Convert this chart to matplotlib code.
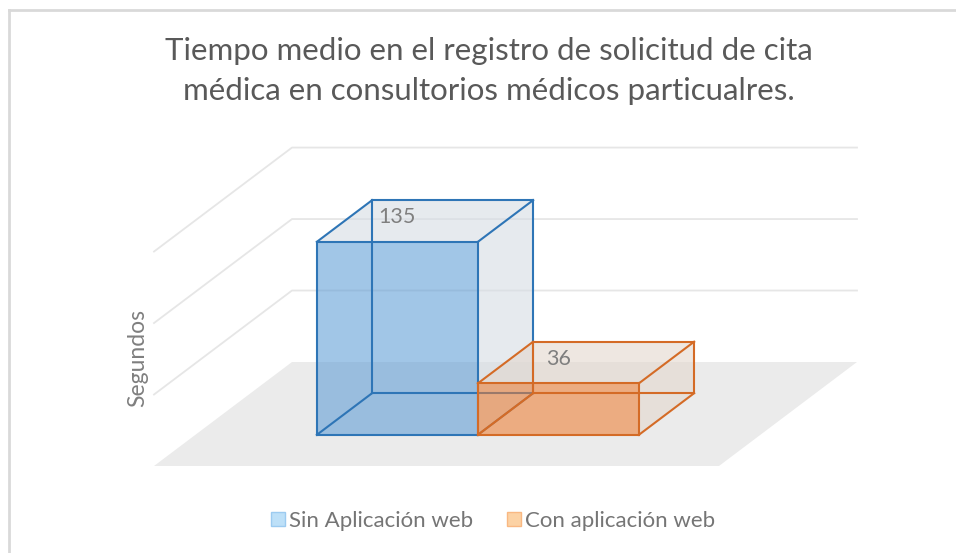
import matplotlib.pyplot as plt
from matplotlib.patches import Polygon, Patch
from matplotlib.lines import Line2D

# datos
title = 'Tiempo medio en el registro de solicitud de cita\nmédica en consultorios médicos particualres.'
series = ['Sin Aplicación web', 'Con aplicación web']
values = [135, 36]
y_label = 'Segundos'
grid_vals = [50, 100, 150]

plt.rcParams['font.family'] = ['Lato', 'DejaVu Sans']

# proyeccion oblicua tipo grafico 3D de Excel
# u: ancho del suelo (0..1), v: segundos, d: profundidad (0..1)
DX = 138 / 565
DY = 104 / 1.4296


def proj(u, v, d):
    return (u + d * DX, v + d * DY)


fig = plt.figure(figsize=(9.56, 5.53), dpi=100)
ax = fig.add_axes([0, 0, 1, 1])
ax.set_xlim(-154 / 565, (956 - 154) / 565)
ax.set_ylim(-(553 - 466) / 1.4296, 466 / 1.4296)
ax.axis('off')

# borde del area del grafico
fig.add_artist(Line2D([9 / 956, 9 / 956], [0, 1 - 10 / 553], color='#D9D9D9', lw=2))
fig.add_artist(Line2D([9 / 956, 1], [1 - 10 / 553, 1 - 10 / 553], color='#D9D9D9', lw=2))

# suelo
floor = [proj(0, 0, 0), proj(1, 0, 0), proj(1, 0, 1), proj(0, 0, 1)]
ax.add_patch(Polygon(floor, closed=True, facecolor='#EBEBEB', edgecolor='none', zorder=1))

# lineas de cuadricula (pared izquierda y pared del fondo)
for g in grid_vals:
    pts = [proj(0, g, 0), proj(0, g, 1), proj(1, g, 1)]
    ax.plot([p[0] for p in pts], [p[1] for p in pts], color='#E6E6E6', lw=1.3, zorder=1)

front_cols = ['#5B9BD5', '#ED7D31']
side_cols = ['#D6DCE4', '#E3D7CE']
edge_cols = ['#2E75B6', '#D46B26']

bar_w = 0.285
d0, d1 = 0.3, 0.7
start = 0.5 - bar_w * len(values) / 2


def box(u0, u1, h, fc, sc, ec, z):
    top = [proj(u0, h, d0), proj(u1, h, d0), proj(u1, h, d1), proj(u0, h, d1)]
    right = [proj(u1, 0, d0), proj(u1, 0, d1), proj(u1, h, d1), proj(u1, h, d0)]
    front = [proj(u0, 0, d0), proj(u1, 0, d0), proj(u1, h, d0), proj(u0, h, d0)]
    ax.add_patch(Polygon(top, closed=True, facecolor=sc, alpha=0.6, edgecolor='none', zorder=z))
    ax.add_patch(Polygon(right, closed=True, facecolor=sc, alpha=0.6, edgecolor='none', zorder=z))
    ax.add_patch(Polygon(front, closed=True, facecolor=fc, alpha=0.57, edgecolor='none', zorder=z))
    # las 12 aristas
    for uu in (u0, u1):
        for vv in (0, h):
            a, b = proj(uu, vv, d0), proj(uu, vv, d1)
            ax.plot([a[0], b[0]], [a[1], b[1]], color=ec, lw=1.5, zorder=z + 0.5)
    for uu in (u0, u1):
        for dd in (d0, d1):
            a, b = proj(uu, 0, dd), proj(uu, h, dd)
            ax.plot([a[0], b[0]], [a[1], b[1]], color=ec, lw=1.5, zorder=z + 0.5)
    for vv in (0, h):
        for dd in (d0, d1):
            a, b = proj(u0, vv, dd), proj(u1, vv, dd)
            ax.plot([a[0], b[0]], [a[1], b[1]], color=ec, lw=1.5, zorder=z + 0.5)


for i, val in enumerate(values):
    u0 = start + i * bar_w
    u1 = u0 + bar_w
    box(u0, u1, val, front_cols[i], side_cols[i], edge_cols[i], 2 + i)
    ax.annotate(str(val), xy=proj((u0 + u1) / 2, val, d0), xytext=(0, 17.5),
                textcoords='offset points', ha='center', va='center',
                fontsize=15.5, color='#7F7F7F', zorder=10)

# titulo y etiqueta del eje
fig.text(489 / 956, 1 - 71 / 553, title, ha='center', va='center', fontsize=22.5,
         color='#595959', linespacing=1.55)
fig.text(138 / 956, 1 - 358 / 553, y_label, rotation=90, ha='center', va='center',
         fontsize=16.5, color='#7F7F7F')

handles = [Patch(facecolor='#BDE0F8', edgecolor='#9CCBF0'),
           Patch(facecolor='#FCD2A4', edgecolor='#F9B882')]
fig.legend(handles, series, loc='center', bbox_to_anchor=(493 / 956, 1 - 521 / 553), ncol=2,
           frameon=False, fontsize=16, labelcolor='#757575', handlelength=0.63,
           handleheight=0.63, handletextpad=0.18, columnspacing=1.55)

plt.savefig('out.png', dpi=100)
